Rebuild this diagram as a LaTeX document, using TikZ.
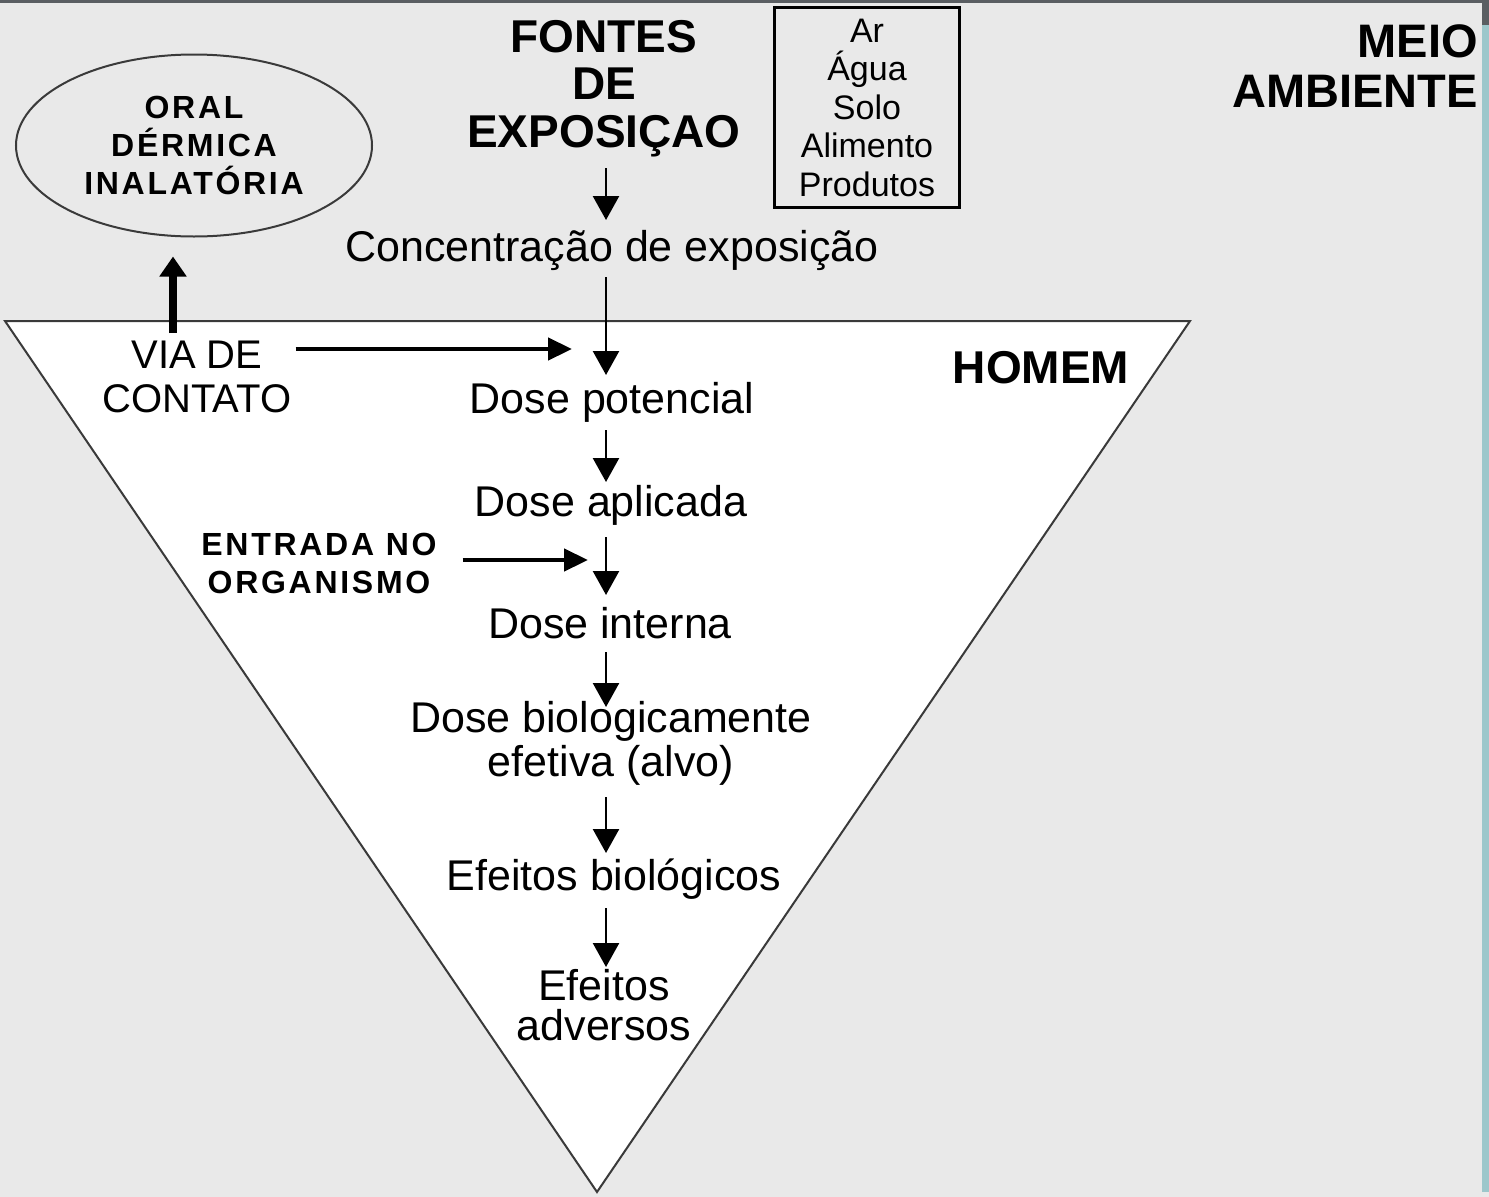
\documentclass[tikz,border=0pt]{standalone}
\usepackage{fontspec}
\setmainfont{Liberation Sans}
\usetikzlibrary{arrows.meta,shapes.geometric,calc}
\definecolor{bg}{HTML}{E9E9E9}
\definecolor{edge}{HTML}{3A3A3A}
\definecolor{frame}{HTML}{5A5E62}
\definecolor{strip}{HTML}{9DC7CB}
\begin{document}
\begin{tikzpicture}[x=1pt,y=-1pt,
  body/.style={font=\fontsize{43}{44}\selectfont, inner sep=0pt, anchor=base, align=center},
  head/.style={font=\bfseries\fontsize{46}{47.5}\selectfont, inner sep=0pt, anchor=base, align=center},
  spaced/.style={font=\bfseries\fontsize{32}{38}\selectfont\addfontfeature{LetterSpace=8.5}, align=center},
  arr/.style={line width=2.5pt, -{Triangle[width=26pt,length=24pt]}},
  harr/.style={line width=4.5pt, -{Triangle[width=22pt,length=24pt]}},
  uparr/.style={line width=8pt, -{Triangle[width=26pt,length=20pt]}},
]
\fill[bg] (0,0) rectangle (1489,1197);
\useasboundingbox (0,0) rectangle (1489,1197);
\fill[frame] (0,0) rectangle (1489,2.5);
\fill[strip] (1482,0) rectangle (1489,1192);
\fill[frame] (1482,0) rectangle (1489,25);

% person triangle
\draw[edge, fill=white, line width=2pt, line join=miter] (5,321) -- (1190,321) -- (597,1192) -- cycle;

% routes ellipse
\node[draw=edge, line width=2pt, ellipse, minimum width=356pt, minimum height=182pt, inner sep=0pt, spaced] (routes) at (194,145.5) {ORAL\\DÉRMICA\\INALATÓRIA};

% media box
\node[draw=black, line width=3pt, minimum width=185pt, minimum height=200pt, inner sep=0pt, font=\fontsize{34}{38.5}\selectfont, align=center] (media) at (867,107.5) {Ar\\Água\\Solo\\Alimento\\Produtos};

% headings
\node[head] (fontes) at (604,147) {FONTES\\DE\\EXPOSIÇAO};
\node[head, font=\bfseries\fontsize{47}{50}\selectfont, align=right, anchor=base east] (meio) at (1478,107) {MEIO\\AMBIENTE};
\node[head] (homem) at (1041,383) {HOMEM};

% chain
\node[body] (conc) at (612,261) {Concentração de exposição};
\node[body] (dpot) at (612,413) {Dose potencial};
\node[body] (dapl) at (611,516) {Dose aplicada};
\node[body] (dint) at (610,638) {Dose interna};
\node[body] (dbio) at (611,776) {Dose biologicamente\\efetiva (alvo)};
\node[body] (efbio) at (614,890) {Efeitos biológicos};
\node[body, font=\fontsize{43}{40}\selectfont] (efadv) at (604,1040) {Efeitos\\adversos};

\node[body, font=\fontsize{40}{44}\selectfont] (via) at (197,412) {VIA DE\\CONTATO};
\node[inner sep=0pt, anchor=base, spaced] (entrada) at (319,593) {ENTRADA NO\\ORGANISMO};

\coordinate (spine) at (606,0);

\draw[arr] ($(fontes.base -| spine)+(0,21)$) -- ($(conc.base -| spine)+(0,-41)$);
\draw[arr] ($(conc.base -| spine)+(0,16)$) -- ($(dpot.base -| spine)+(0,-38)$);
\draw[arr] ($(dpot.base -| spine)+(0,17)$) -- ($(dapl.base -| spine)+(0,-34)$);
\draw[arr] ($(dapl.base -| spine)+(0,21)$) -- ($(dint.base -| spine)+(0,-43)$);
\draw[arr] ($(dint.base -| spine)+(0,14)$) -- ($(dbio.base -| spine)+(0,-69)$);
\draw[arr] ($(dbio.base -| spine)+(0,21)$) -- ($(efbio.base -| spine)+(0,-37)$);
\draw[arr] ($(efbio.base -| spine)+(0,18)$) -- ($(efadv.base -| spine)+(0,-73)$);

\draw[harr] ($(via.base -| via.east)+(4,-63)$) -- ($(via.base -| spine)+(-34,-63)$);
\draw[harr] ($(entrada.base -| entrada.east)+(26,-33)$) -- ($(entrada.base -| spine)+(-18,-33)$);
\draw[uparr] ($(via.base)+(-24,-79)$) -- ($(routes.south)+(-21,19)$);
\end{tikzpicture}
\end{document}
